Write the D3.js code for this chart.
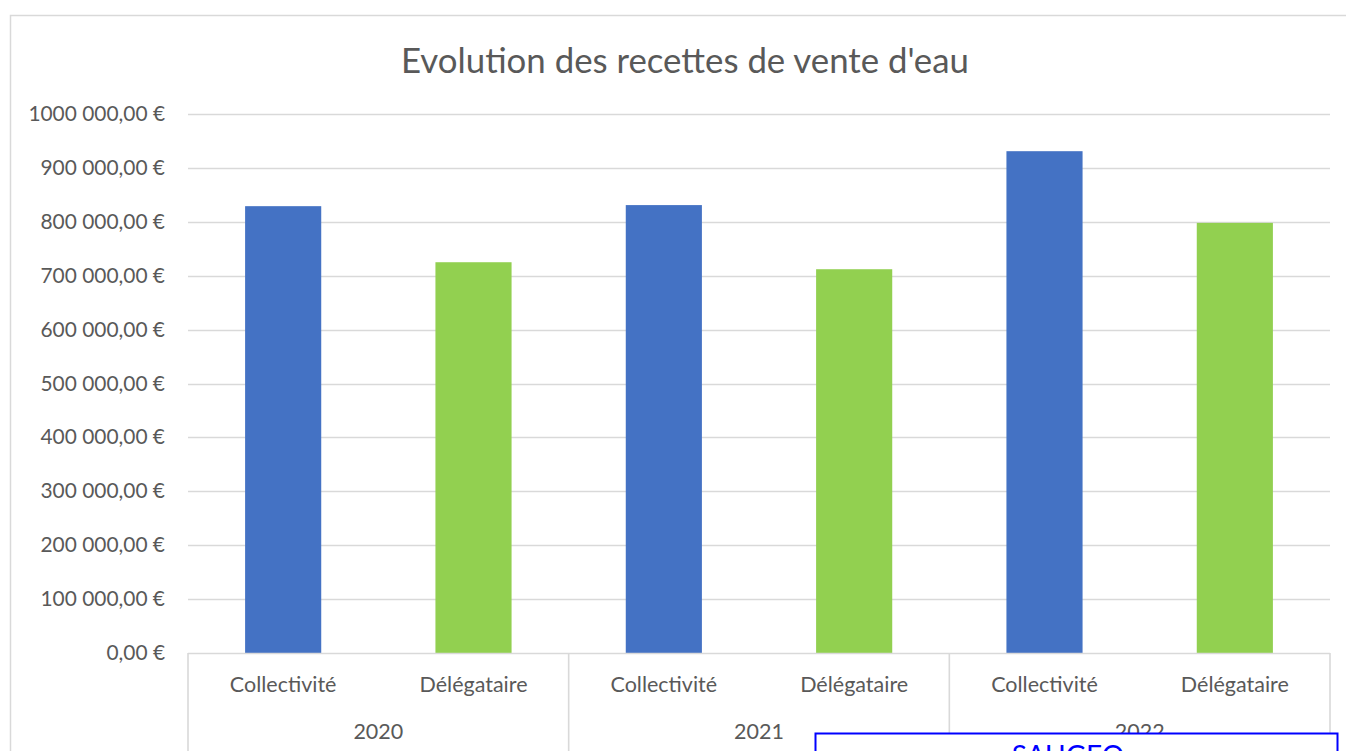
<html>
<head>
<meta charset="utf-8">
<script src="https://d3js.org/d3.v7.min.js"></script>
<style>
  body { margin: 0; background: #fff; overflow: hidden; }
  svg { display: block; }
  text { font-family: Lato, "Open Sans", sans-serif; fill: #595959; }
</style>
</head>
<body>
<svg id="chart"></svg>
<script>
// data
var years = ["2020", "2021", "2022"];
var series = ["Collectivité", "Délégataire"];
var collectivite = [829000, 831000, 931000];
var delegataire = [725000, 712000, 798000];
var yTicks = [0, 100000, 200000, 300000, 400000, 500000, 600000, 700000, 800000, 900000, 1000000];
var colors = ["#4472c4", "#92d050"];

var width = 1346, height = 751;
var svg = d3.select("#chart").attr("width", width).attr("height", height);

// chart frame
svg.append("rect")
  .attr("x", 10.5).attr("y", 15.5)
  .attr("width", 1400).attr("height", 800)
  .attr("fill", "none")
  .style("stroke", "#d9d9d9")
  .style("stroke-width", 1.5);

// title
svg.append("text")
  .attr("x", 685).attr("y", 73)
  .style("text-anchor", "middle")
  .style("font-size", "34.8px")
  .text("Evolution des recettes de vente d'eau");

var x0 = d3.scaleBand().domain(years).range([188, 1330]);
var x1 = d3.scaleBand().domain(series).range([0, x0.bandwidth()])
  .paddingInner(0.6).paddingOuter(0.3);
var y = d3.scaleLinear().domain([0, 1000000]).range([653, 114]);

function fmt(v) {
  // "1000 000,00 €" style as in the picture
  var s = d3.format(".2f")(v).replace(".", ",");
  var parts = s.split(",");
  var intPart = parts[0];
  if (intPart.length > 3) intPart = intPart.slice(0, intPart.length - 3) + " " + intPart.slice(-3);
  return intPart + "," + parts[1] + " €";
}

// gridlines
svg.append("g").selectAll("line")
  .data(yTicks.filter(function(d){ return d > 0; }))
  .enter().append("line")
  .attr("x1", 188).attr("x2", 1330)
  .attr("y1", function(d){ return Math.round(y(d)) + 0.5; })
  .attr("y2", function(d){ return Math.round(y(d)) + 0.5; })
  .style("stroke", "#d9d9d9")
  .style("stroke-width", 1.6);

// y labels
svg.append("g").selectAll("text")
  .data(yTicks)
  .enter().append("text")
  .attr("x", 165)
  .attr("y", function(d){ return y(d) + 7; })
  .style("text-anchor", "end")
  .style("font-size", "20.9px")
  .text(fmt);

// bars
var rows = years.map(function(yr, i){
  return [
    { year: yr, s: series[0], v: collectivite[i], c: colors[0] },
    { year: yr, s: series[1], v: delegataire[i], c: colors[1] }
  ];
});
var flat = [].concat.apply([], rows);

svg.append("g").selectAll("rect")
  .data(flat)
  .enter().append("rect")
  .attr("x", function(d){ return x0(d.year) + x1(d.s); })
  .attr("y", function(d){ return y(d.v); })
  .attr("width", x1.bandwidth())
  .attr("height", function(d){ return y(0) - y(d.v); })
  .attr("fill", function(d){ return d.c; });

// category axis
var ax = svg.append("g");
ax.append("line")
  .attr("x1", 188).attr("x2", 1330)
  .attr("y1", 653.5).attr("y2", 653.5)
  .style("stroke", "#d9d9d9").style("stroke-width", 1.6);
ax.selectAll("line.sep")
  .data(years.concat(["end"]))
  .enter().append("line")
  .attr("class", "sep")
  .attr("x1", function(d){ return d === "end" ? 1330 : x0(d); })
  .attr("x2", function(d){ return d === "end" ? 1330 : x0(d); })
  .attr("y1", 653).attr("y2", 800)
  .style("stroke", "#d9d9d9").style("stroke-width", 1.6);

ax.selectAll("text.cat")
  .data(flat)
  .enter().append("text")
  .attr("class", "cat")
  .attr("x", function(d){ return x0(d.year) + x1(d.s) + x1.bandwidth() / 2; })
  .attr("y", 692)
  .style("text-anchor", "middle")
  .style("font-size", "21.5px")
  .text(function(d){ return d.s; });

ax.selectAll("text.yr")
  .data(years)
  .enter().append("text")
  .attr("class", "yr")
  .attr("x", function(d){ return x0(d) + x0.bandwidth() / 2; })
  .attr("y", 739)
  .style("text-anchor", "middle")
  .style("font-size", "21.5px")
  .text(function(d){ return d; });

// overlapping blue box at the bottom
svg.append("rect")
  .attr("x", 815.5).attr("y", 733.5)
  .attr("width", 522).attr("height", 60)
  .attr("fill", "#fff")
  .style("stroke", "#0000ff")
  .style("stroke-width", 2);
svg.append("text")
  .attr("x", 1068).attr("y", 766)
  .style("text-anchor", "middle")
  .style("font-size", "28px")
  .style("fill", "#0000ff")
  .text("SAUGEO");
</script>
</body>
</html>
